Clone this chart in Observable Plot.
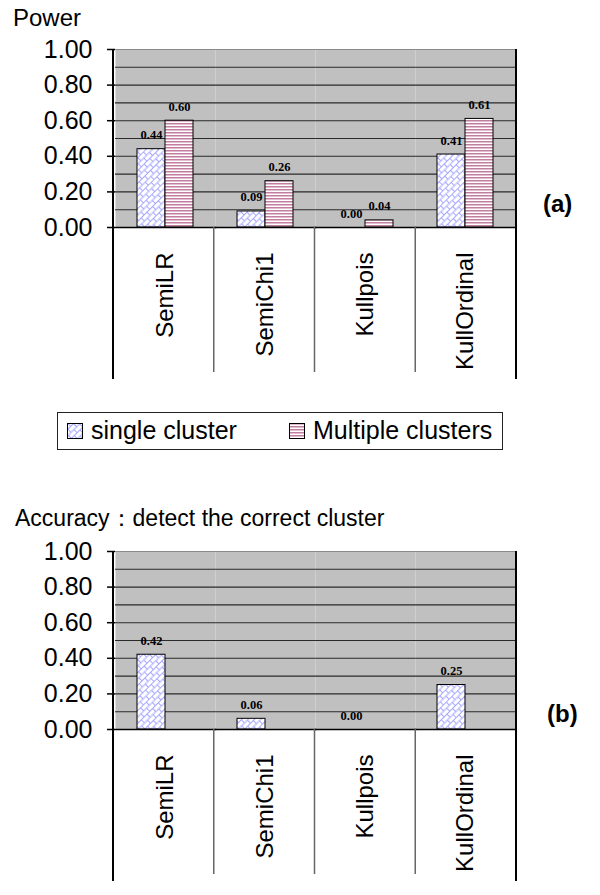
<!DOCTYPE html>
<html>
<head>
<meta charset="utf-8">
<script src="https://cdn.jsdelivr.net/npm/d3@7"></script>
<script src="https://cdn.jsdelivr.net/npm/@observablehq/plot@0.6"></script>
<style>
html, body { margin: 0; padding: 0; background: #fff; }
#root { position: relative; width: 600px; height: 895px; overflow: hidden; }
#root > svg { position: absolute; left: 0; }
#overlay { top: 0; pointer-events: none; }
</style>
</head>
<body>
<svg width="0" height="0" style="position:absolute">
  <defs>
    <pattern id="patSingle" width="8" height="9" patternUnits="userSpaceOnUse" patternTransform="rotate(-45)">
      <rect width="8" height="9" fill="#fff"></rect>
      <path d="M0 0.5H8 M0 5H8 M0.5 0.5V5 M4.5 5V9.5" stroke="#a6a6ff" stroke-width="1" fill="none"></path>
    </pattern>
    <pattern id="patMultiple" width="4" height="3" patternUnits="userSpaceOnUse">
      <rect width="4" height="3" fill="#fff"></rect>
      <rect width="4" height="1.5" y="0" fill="#c27ea0"></rect>
    </pattern>
  </defs>
</svg>
<div id="root"></div>
<script>
// ---- data ----
const categories = ["SemiLR", "SemiChi1", "Kullpois", "KullOrdinal"];
const series = ["single cluster", "Multiple clusters"];
const powerSingle = [0.44, 0.09, 0.00, 0.41];
const powerMultiple = [0.60, 0.26, 0.04, 0.61];
const accuracySingle = [0.42, 0.06, 0.00, 0.25];
const yTicks = [0, 0.2, 0.4, 0.6, 0.8, 1.0];
const gridTicks = [0.1, 0.2, 0.3, 0.4, 0.5, 0.6, 0.7, 0.8, 0.9];
const patternFills = ["url(#patSingle)", "url(#patMultiple)"];

const powerRows = [
  ...categories.map((c, i) => ({category: c, series: series[0], value: powerSingle[i]})),
  ...categories.map((c, i) => ({category: c, series: series[1], value: powerMultiple[i]}))
];
const accuracyRows = categories.map((c, i) => ({category: c, series: series[0], value: accuracySingle[i]}));

const root = document.getElementById("root");

function makeChart(rows, top) {
  const svg = Plot.plot({
    width: 600,
    height: 390,
    marginTop: 49,
    marginLeft: 113,
    marginRight: 84,
    marginBottom: 163,
    style: {fontFamily: "'Liberation Sans', Arial, sans-serif", background: "transparent", color: "#000", overflow: "visible"},
    fx: {domain: categories, padding: 0, axis: null, label: null},
    x: {domain: series, paddingInner: 0, paddingOuter: 0.77, axis: null, label: null},
    y: {domain: [0, 1], axis: null, label: null},
    color: {type: "ordinal", domain: series, range: patternFills},
    marks: [
      Plot.frame({fill: "#c0c0c0"}),
      Plot.ruleY(gridTicks, {stroke: "#2a2a2a", strokeWidth: 1.1}),
      Plot.frame({anchor: "top", stroke: "#8a8a8a", strokeWidth: 1}),
      Plot.barY(rows, {fx: "category", x: "series", y: "value", fill: "series", stroke: "#000", strokeWidth: 1}),
      Plot.text(rows, {
        fx: "category", x: "series", y: "value",
        text: d => d.value.toFixed(2),
        dy: -14, fontSize: 12.5, fontWeight: "bold",
        fontFamily: "'Liberation Serif', 'Times New Roman', serif", fill: "#000"
      }),
      Plot.frame({anchor: "bottom", stroke: "#000", strokeWidth: 1.5}),
      Plot.axisY(yTicks, {tickSize: 8, tickPadding: 15, fontSize: 25, tickFormat: d3.format(".2f"), label: null, strokeWidth: 1.5}),
      Plot.axisFx({anchor: "bottom", tickSize: 0, tickPadding: 25, tickRotate: -90, fontSize: 24, label: null})
    ]
  });
  svg.style.top = top + "px";
  // category separators and outer borders, from Plot's own scales
  const fxS = svg.scale("fx");
  const yS = svg.scale("y");
  const band = d3.scaleBand().domain(fxS.domain).range(fxS.range).padding(0);
  const ylin = d3.scaleLinear().domain(yS.domain).range(yS.range);
  const y0 = ylin(0), y1 = ylin(1);
  const g = d3.select(svg).append("g");
  categories.slice(1).forEach(c => {
    g.append("line").attr("x1", band(c)).attr("x2", band(c))
      .attr("y1", y0).attr("y2", y0 + 145).attr("stroke", "#666").attr("stroke-width", 1.5);
  });
  const xl = band(categories[0]);
  const xr = band(categories[categories.length - 1]) + band.bandwidth();
  [xl, xr].forEach(x => {
    g.append("line").attr("x1", x).attr("x2", x)
      .attr("y1", y1).attr("y2", y0 + 152).attr("stroke", "#000").attr("stroke-width", 2);
  });
  root.appendChild(svg);
}

makeChart(powerRows, 0);
makeChart(accuracyRows, 502);

// ---- titles, panel labels and legend ----
const ov = d3.select(root).append("svg").attr("id", "overlay")
  .attr("width", 600).attr("height", 895)
  .style("font-family", "'Liberation Sans', Arial, sans-serif");
ov.append("text").attr("x", 13).attr("y", 26).attr("font-size", 24).text("Power");
ov.append("text").attr("x", 15).attr("y", 526).attr("font-size", 23).text("Accuracy：detect the correct cluster");
ov.append("text").attr("x", 543).attr("y", 212).attr("font-size", 24).attr("font-weight", "bold").text("(a)");
ov.append("text").attr("x", 547).attr("y", 722).attr("font-size", 24).attr("font-weight", "bold").text("(b)");

const lg = ov.append("g");
lg.append("rect").attr("x", 57.5).attr("y", 412.5).attr("width", 445).attr("height", 37)
  .attr("fill", "#fff").attr("stroke", "#222").attr("stroke-width", 1);
const legendX = [[67, 91], [289, 313]];
series.forEach((s, i) => {
  lg.append("rect").attr("x", legendX[i][0] + 0.5).attr("y", 423.5).attr("width", 15).attr("height", 15)
    .attr("fill", patternFills[i]).attr("stroke", "#000").attr("stroke-width", 1);
  lg.append("text").attr("x", legendX[i][1]).attr("y", 439).attr("font-size", 25).text(s);
});
</script>
</body>
</html>
